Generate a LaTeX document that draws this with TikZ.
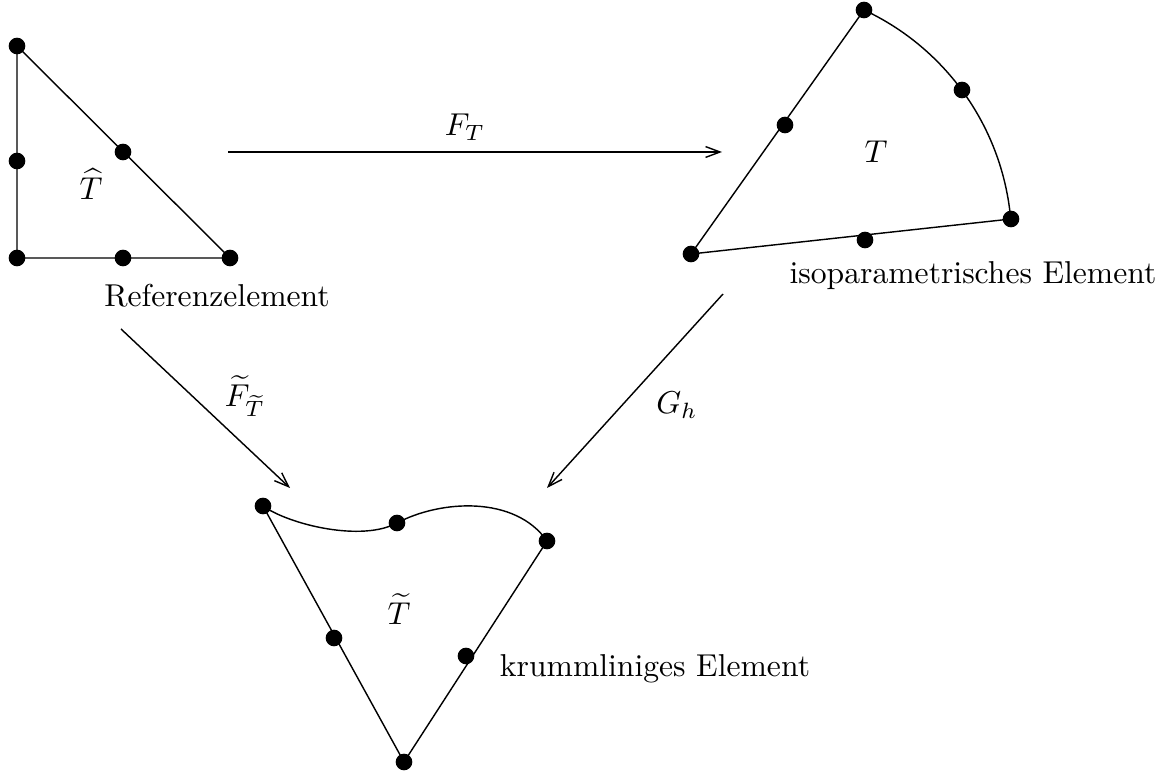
\documentclass[tikz,border=0pt]{standalone}
\usepackage{amsmath,amssymb}
\usetikzlibrary{arrows.meta}
\tikzset{
  edge/.style ={line width=0.45pt,black},
  arr/.style  ={-{Straight Barb[length=1.6mm,width=1.2mm]},line width=0.45pt},
  pt/.style   ={circle,fill=black,inner sep=0pt,minimum size=1.85mm},
  lbl/.style  ={font=\normalsize,inner sep=1pt},
}
\begin{document}
\begin{tikzpicture}[x=0.01111cm,y=-0.01111cm]
 \useasboundingbox (0,0) rectangle (1175,774);
 % Referenzelement
 \coordinate (r1) at (17,46);
 \coordinate (r2) at (17,258);
 \coordinate (r3) at (230,258);
 \coordinate (r12) at (17,161);
 \coordinate (r13) at (123,152);
 \coordinate (r23) at (123,258);
 \draw[edge] (r1) -- (r2) -- (r3) -- cycle;
 \foreach \p in {r1,r2,r3,r12,r13,r23} \node[pt] at (\p) {};
 \node[lbl] (that) at (91,184) {$\widehat{T}$};
 \node[lbl] (rlab) at (217,296) {Referenzelement};
 % isoparametrisches Element
 \coordinate (i1) at (691,254);
 \coordinate (i2) at (864,10);
 \coordinate (i3) at (1011,219);
 \coordinate (i12) at (785,125);
 \coordinate (i23) at (962,90);
 \coordinate (i13) at (865,240);
 \draw[edge] (i3) -- (i1) -- (i2);
 \draw[edge] (i2) arc[start angle=-65,end angle=-5.2,radius=255.9];
 \foreach \p in {i1,i2,i3,i12,i23,i13} \node[pt] at (\p) {};
 \node[lbl] (tiso) at (876,152) {$T$};
 \node[lbl] (ilab) at (973,276) {isoparametrisches Element};
 % krummliniges Element
 \coordinate (k1) at (263,506);
 \coordinate (k2) at (547,541);
 \coordinate (k3) at (404,762);
 \coordinate (k12) at (397,523);
 \coordinate (k13) at (334,638);
 \coordinate (k23) at (466,656);
 \draw[edge] (k2) -- (k3) -- (k1);
 \draw[edge] (k1) .. controls (290,525) and (362,542) .. (k12)
                  .. controls (440,500) and (515,495) .. (k2);
 \foreach \p in {k1,k2,k3,k12,k13,k23} \node[pt] at (\p) {};
 \node[lbl] (tkr) at (399,609) {$\widetilde{T}$};
 \node[lbl] (klab) at (655,669) {krummliniges Element};
 % Abbildungen
 \coordinate (a1) at (228,152);
 \coordinate (a2) at (722,152);
 \coordinate (b1) at (121,329);
 \coordinate (b2) at (290,488);
 \coordinate (c1) at (723,294);
 \coordinate (c2) at (547,488);
 \draw[arr] (a1) -- (a2);
 \draw[arr] (b1) -- (b2);
 \draw[arr] (c1) -- (c2);
 \node[lbl] (ft) at (465,127) {$F_T$};
 \node[lbl] (fkr) at (245,396) {$\widetilde{F}_{\widetilde{T}}$};
 \node[lbl] (gh) at (677,405) {$G_h$};
\end{tikzpicture}
\end{document}
